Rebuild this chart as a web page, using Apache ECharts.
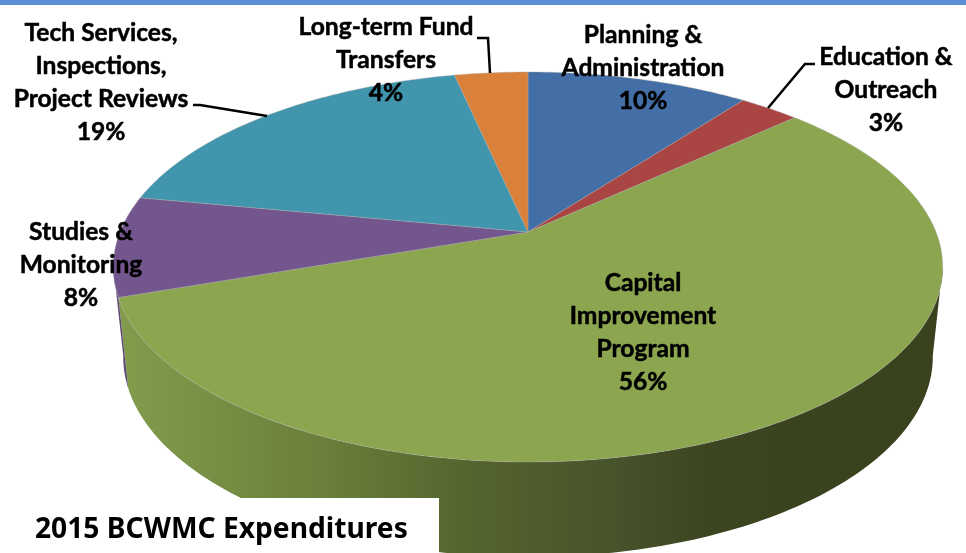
<!DOCTYPE html>
<html>
<head>
<meta charset="utf-8">
<style>
  html, body { margin: 0; padding: 0; background: #fff; }
  #chart { width: 966px; height: 553px; }
</style>
<script src="https://cdn.jsdelivr.net/npm/echarts@6/dist/echarts.min.js"></script>
</head>
<body>
<div id="chart"></div>
<script>
// clockwise from 12 o'clock, values estimated from the slice edges
const categories = [
  'Planning &\nAdministration',
  'Education &\nOutreach',
  'Capital\nImprovement\nProgram',
  'Studies &\nMonitoring',
  'Tech Services,\nInspections,\nProject Reviews',
  'Long-term Fund\nTransfers'
]
const values = [10.3, 2.8, 56.6, 8.3, 18.6, 3.4]
const percentLabels = ['10%', '3%', '56%', '8%', '19%', '4%']
const titleText = '2015 BCWMC Expenditures'

const colors = ['#446ea6', '#a94543', '#8ba64f', '#73568e', '#4196ad', '#d9813a']

// projected disc: the apex sits above the centre of the ellipse
const cx = 528
const cy = 232
const scaleX = 408
const scaleY = 188.7
const persp = 0.1795

const total = values.reduce((a, b) => a + b, 0)
const starts = []
values.reduce((acc, v, i) => {
  starts[i] = acc
  return acc + v
}, 0)

function toDeg(v) {
  return v / total * 360
}

function topPoint(deg) {
  const a = deg * Math.PI / 180
  const u = Math.sin(a)
  const v = Math.cos(a)
  const d = 1 + persp * v
  return [cx + scaleX * u / d, cy - scaleY * v / d]
}

function bottomPoint(deg) {
  const p = topPoint(deg)
  return [cx + 0.976 * (p[0] - cx), 357 + 1.026 * (p[1] - 267)]
}

function arc(fn, from, to) {
  const pts = []
  const n = Math.max(2, Math.ceil(Math.abs(to - from)))
  for (let i = 0; i <= n; i++) {
    pts.push(fn(from + (to - from) * i / n))
  }
  return pts
}

const sideFill = new echarts.graphic.LinearGradient(118, 0, 943, 0, [
  { offset: 0, color: '#829c4c' },
  { offset: 0.25, color: '#6a7f3b' },
  { offset: 0.42, color: '#55652e' },
  { offset: 0.6, color: '#47532a' },
  { offset: 0.72, color: '#3b4520' },
  { offset: 1, color: '#39411d' }
], true)

function renderSide(params, api) {
  const i = params.dataIndex
  const from = Math.max(toDeg(starts[i]), 100)
  const to = Math.min(toDeg(starts[i] + api.value(0)), 260)
  if (to <= from) {
    return null
  }
  const points = arc(topPoint, from, to).concat(arc(bottomPoint, to, from))
  return {
    type: 'polygon',
    shape: { points: points },
    style: { fill: i === 2 ? sideFill : '#5f4775' }
  }
}

function renderTop(params, api) {
  const i = params.dataIndex
  const from = toDeg(starts[i])
  const to = toDeg(starts[i] + api.value(0))
  return {
    type: 'polygon',
    shape: { points: [[cx, cy]].concat(arc(topPoint, from, to)) },
    style: {
      fill: colors[i],
      stroke: 'rgba(170,170,170,0.4)',
      lineWidth: 1
    }
  }
}

const labelFont = {
  fontFamily: 'Lato',
  fontWeight: 'bold',
  fontSize: 24.6,
  lineHeight: 33,
  fill: '#000',
  stroke: '#000',
  lineWidth: 0.5,
  align: 'center',
  verticalAlign: 'middle'
}

// middle of each text block
const labelSpots = [[643, 68], [886, 90], [643, 333], [81, 265], [101, 83], [386, 60]]

const leaderLines = [
  [[193, 105], [200, 105], [267, 116]],
  [[477, 38], [488, 38], [490, 73]],
  [[815, 64], [805, 64], [768, 108]]
]

const graphics = [
  { type: 'rect', shape: { x: 0, y: 0, width: 966, height: 5 }, style: { fill: '#5b8fd8' }, z: 10 },
  { type: 'rect', shape: { x: 0, y: 498, width: 439, height: 55 }, style: { fill: '#fff' }, z: 10 },
  {
    type: 'text',
    x: 35,
    y: 530,
    z: 11,
    style: {
      text: titleText,
      fontFamily: 'Noto Sans',
      fontWeight: 'bold',
      fontSize: 28.2,
      fill: '#000',
      verticalAlign: 'middle'
    }
  }
]

leaderLines.forEach(pts => {
  graphics.push({
    type: 'polyline',
    z: 12,
    shape: { points: pts },
    style: { stroke: '#000', lineWidth: 2.5, fill: null }
  })
})

categories.forEach((name, i) => {
  graphics.push({
    type: 'text',
    x: labelSpots[i][0],
    y: labelSpots[i][1],
    z: 12,
    style: Object.assign({ text: name + '\n' + percentLabels[i] }, labelFont)
  })
})

const chart = echarts.init(document.getElementById('chart'), null, { renderer: 'canvas' })
chart.setOption({
  backgroundColor: '#fff',
  animation: false,
  graphic: graphics,
  series: [
    {
      type: 'custom',
      coordinateSystem: 'none',
      silent: true,
      z: 1,
      renderItem: renderSide,
      data: values.map(v => [v])
    },
    {
      type: 'custom',
      coordinateSystem: 'none',
      silent: true,
      z: 2,
      renderItem: renderTop,
      data: values.map(v => [v])
    }
  ]
})
</script>
</body>
</html>
